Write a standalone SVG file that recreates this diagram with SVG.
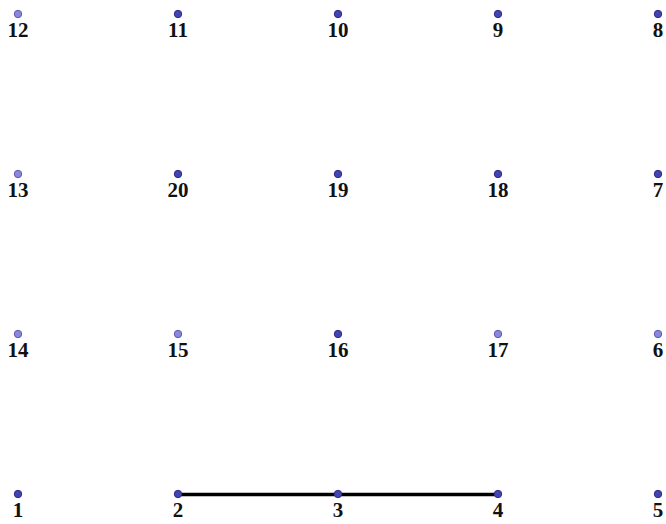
<svg xmlns="http://www.w3.org/2000/svg" width="666" height="524" viewBox="0 0 666 524">
<style>
.d{fill:#4444b0;stroke:#2a2a88;stroke-width:1}
.l{fill:#8888dd;stroke:#5a5ab0;stroke-width:1}
text{font-family:"Liberation Serif","Times New Roman",serif;font-weight:bold;font-size:21px;fill:#111;text-anchor:middle}
</style>
<rect width="666" height="524" fill="#fff"/>
<g id="connectors">
<line x1="178" y1="494.5" x2="498" y2="494.5" stroke="#000" stroke-width="3.5"/>
</g>
<g id="n12"><circle class="l" cx="18" cy="14" r="3.7"/><text x="18" y="37">12</text></g>
<g id="n11"><circle class="d" cx="178" cy="14" r="3.7"/><text x="178" y="37">11</text></g>
<g id="n10"><circle class="d" cx="338" cy="14" r="3.7"/><text x="338" y="37">10</text></g>
<g id="n9"><circle class="d" cx="498" cy="14" r="3.7"/><text x="498" y="37">9</text></g>
<g id="n8"><circle class="d" cx="658" cy="14" r="3.7"/><text x="658" y="37">8</text></g>
<g id="n13"><circle class="l" cx="18" cy="174" r="3.7"/><text x="18" y="197">13</text></g>
<g id="n20"><circle class="d" cx="178" cy="174" r="3.7"/><text x="178" y="197">20</text></g>
<g id="n19"><circle class="d" cx="338" cy="174" r="3.7"/><text x="338" y="197">19</text></g>
<g id="n18"><circle class="d" cx="498" cy="174" r="3.7"/><text x="498" y="197">18</text></g>
<g id="n7"><circle class="d" cx="658" cy="174" r="3.7"/><text x="658" y="197">7</text></g>
<g id="n14"><circle class="l" cx="18" cy="334" r="3.7"/><text x="18" y="357">14</text></g>
<g id="n15"><circle class="l" cx="178" cy="334" r="3.7"/><text x="178" y="357">15</text></g>
<g id="n16"><circle class="d" cx="338" cy="334" r="3.7"/><text x="338" y="357">16</text></g>
<g id="n17"><circle class="l" cx="498" cy="334" r="3.7"/><text x="498" y="357">17</text></g>
<g id="n6"><circle class="l" cx="658" cy="334" r="3.7"/><text x="658" y="357">6</text></g>
<g id="n1"><circle class="d" cx="18" cy="494" r="3.7"/><text x="18" y="517">1</text></g>
<g id="n2"><circle class="d" cx="178" cy="494" r="3.7"/><text x="178" y="517">2</text></g>
<g id="n3"><circle class="d" cx="338" cy="494" r="3.7"/><text x="338" y="517">3</text></g>
<g id="n4"><circle class="d" cx="498" cy="494" r="3.7"/><text x="498" y="517">4</text></g>
<g id="n5"><circle class="d" cx="658" cy="494" r="3.7"/><text x="658" y="517">5</text></g>
</svg>
